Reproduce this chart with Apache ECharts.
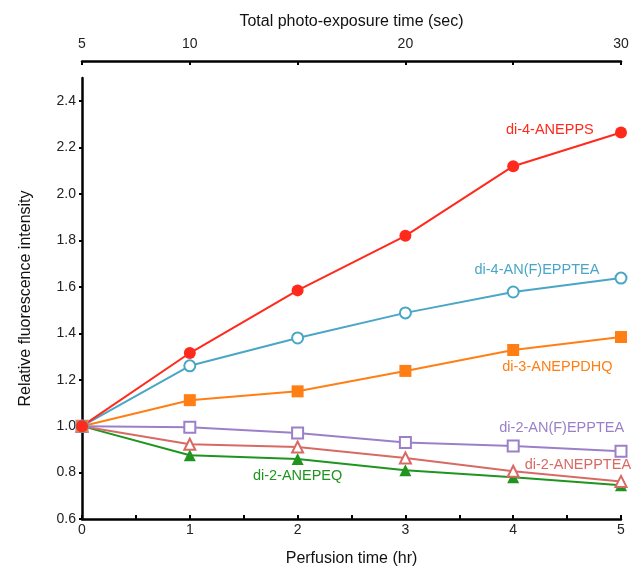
<!DOCTYPE html>
<html>
<head>
<meta charset="utf-8">
<script src="https://cdn.jsdelivr.net/npm/echarts@6/dist/echarts.min.js"></script>
<style>
  html, body { margin: 0; padding: 0; background: #fff; }
  #main { width: 635px; height: 572px; }
</style>
</head>
<body>
<div id="main"></div>
<script>
// perfusion time (hr)
var hours = [0, 1, 2, 3, 4, 5];
// top axis: total photo-exposure time (sec), keyed by hour position
var exposureTicks = { 0: '5', 1: '10', 3: '20', 5: '30' };
var yTicks = [0.6, 0.8, 1.0, 1.2, 1.4, 1.6, 1.8, 2.0, 2.2, 2.4];

var di4Anepps = [1.0, 1.315, 1.585, 1.82, 2.12, 2.265];
var di4AnfEpptea = [1.0, 1.26, 1.38, 1.488, 1.578, 1.638];
var di3Aneppdhq = [1.0, 1.112, 1.15, 1.238, 1.328, 1.384];
var di2AnfEpptea = [1.0, 0.995, 0.97, 0.93, 0.914, 0.892];
var di2Anepptea = [1.0, 0.922, 0.91, 0.863, 0.806, 0.762];
var di2Anepeq = [1.0, 0.875, 0.858, 0.81, 0.78, 0.745];

var font = 'Liberation Sans, Arial, sans-serif';

function pairs(vals) {
  return hours.map(function (h, i) { return [h, vals[i]]; });
}

function makeSeries(name, vals, color, symbol, labelAt) {
  var empty = symbol.indexOf('empty') === 0;
  return {
    name: name,
    type: 'line',
    data: pairs(vals),
    symbol: symbol,
    symbolSize: empty ? 11 : 12,
    lineStyle: { color: color, width: 2 },
    itemStyle: { color: color, borderColor: color, borderWidth: empty ? 1.8 : 0 },
    z: 3,
    markPoint: {
      symbol: 'circle',
      symbolSize: 0,
      silent: true,
      data: [{ coord: labelAt, value: name }],
      label: {
        show: true,
        position: 'inside',
        formatter: name,
        color: color,
        fontFamily: font,
        fontSize: 14.5
      }
    }
  };
}

var chart = echarts.init(document.getElementById('main'));

chart.setOption({
  backgroundColor: '#fff',
  animation: false,
  grid: { left: 82, right: 14, top: 78, bottom: 53 },
  xAxis: [
    {
      type: 'value',
      position: 'bottom',
      min: 0, max: 5, interval: 0.5,
      name: 'Perfusion time (hr)',
      nameLocation: 'middle',
      nameGap: 32,
      nameTextStyle: { fontFamily: font, fontSize: 16, color: '#111' },
      axisLine: { lineStyle: { color: '#000', width: 2.5 } },
      axisTick: { inside: true, length: 4, lineStyle: { color: '#000', width: 2 } },
      axisLabel: {
        customValues: hours,
        margin: 4,
        fontFamily: font, fontSize: 14, color: '#222'
      },
      splitLine: { show: false }
    },
    {
      type: 'value',
      position: 'top',
      offset: 17,
      min: 0, max: 5, interval: 1,
      name: 'Total photo-exposure time (sec)',
      nameLocation: 'middle',
      nameGap: 31,
      nameTextStyle: { fontFamily: font, fontSize: 16, color: '#111' },
      axisLine: { lineStyle: { color: '#000', width: 2.5 } },
      axisTick: { inside: true, length: 4, lineStyle: { color: '#000', width: 2 } },
      axisLabel: {
        customValues: [0, 1, 3, 5],
        margin: 10,
        formatter: function (v) { return exposureTicks[v] || ''; },
        fontFamily: font, fontSize: 14, color: '#222'
      },
      splitLine: { show: false }
    }
  ],
  yAxis: {
    type: 'value',
    min: 0.6, max: 2.5, interval: 0.2,
    name: 'Relative fluorescence intensity',
    nameLocation: 'middle',
    nameGap: 48,
    nameTextStyle: { fontFamily: font, fontSize: 16, color: '#111' },
    axisLine: { show: true, lineStyle: { color: '#000', width: 2.5 } },
    axisTick: { show: true, customValues: yTicks, length: 3, lineStyle: { color: '#000', width: 2 } },
    axisLabel: {
      customValues: yTicks,
      margin: 6,
      formatter: function (v) { return v.toFixed(1); },
      fontFamily: font, fontSize: 14, color: '#222'
    },
    splitLine: { show: false }
  },
  series: [
    makeSeries('di-2-ANEPEQ', di2Anepeq, '#1f951f', 'triangle', [2.0, 0.785]),
    makeSeries('di-2-ANEPPTEA', di2Anepptea, '#d86a64', 'emptyTriangle', [4.6, 0.833]),
    makeSeries('di-2-AN(F)EPPTEA', di2AnfEpptea, '#9b80c9', 'emptyRect', [4.45, 0.99]),
    makeSeries('di-3-ANEPPDHQ', di3Aneppdhq, '#ff7f15', 'rect', [4.41, 1.255]),
    makeSeries('di-4-AN(F)EPPTEA', di4AnfEpptea, '#4aa6c6', 'emptyCircle', [4.22, 1.673]),
    makeSeries('di-4-ANEPPS', di4Anepps, '#ff2a1c', 'circle', [4.34, 2.277])
  ]
});
</script>
</body>
</html>
